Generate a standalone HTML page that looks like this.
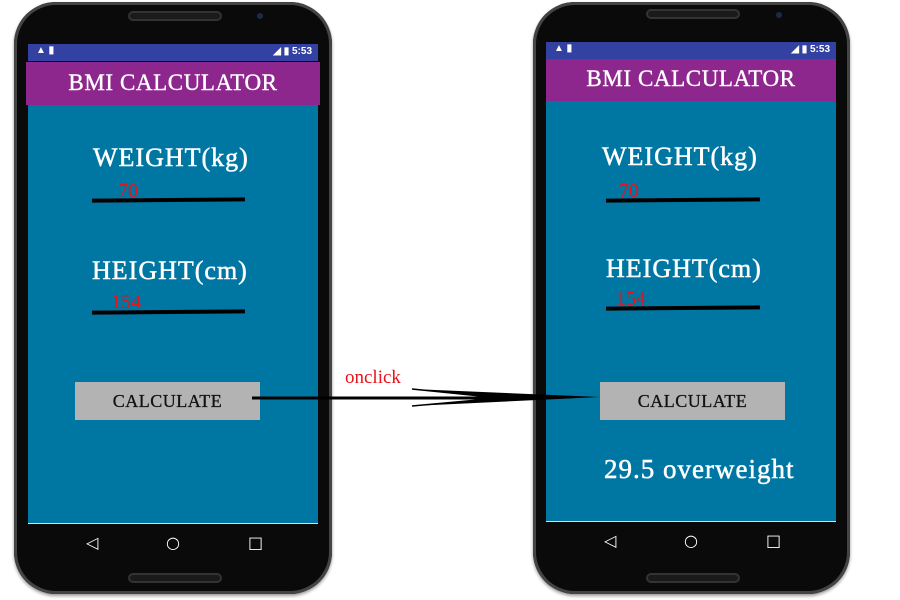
<!DOCTYPE html>
<html><head><meta charset="utf-8"><style>
body{margin:0;width:900px;height:600px;background:#fff;position:relative;overflow:hidden;font-family:"Liberation Serif",serif}
.a{position:absolute}
.body{background:#0a0a0a;border-radius:42px;box-shadow:0 0 0 3px #444 inset, 0 2px 3px #999}
.stat{background:#3341a3;color:#fff;font:bold 10px "Liberation Sans",sans-serif}
.head{background:#8e278d;color:#fff;font-size:23px;text-align:center;letter-spacing:.6px;-webkit-text-stroke:0.4px #fff}
.scr{background:#0077a3}
.lbl{color:#fff;font-size:26px;letter-spacing:1px;-webkit-text-stroke:0.5px #fff}
.val{color:#e8121a;font-size:20px}
.line{background:#000;height:4px}
.btn{background:#b3b3b3;font:18px "Liberation Serif",serif;color:#111;text-align:center;line-height:38px;letter-spacing:.5px;-webkit-text-stroke:0.3px #111}
.spk{background:#1a1a1a;border:2px solid #333;border-radius:8px}
.nav{color:#fff;font:16px "DejaVu Sans",sans-serif}
</style></head><body>

<!-- phone 1 -->
<div class="a body" style="left:14px;top:2px;width:318px;height:592px"></div>
<div class="a spk" style="left:128px;top:11px;width:90px;height:6px"></div>
<div class="a" style="left:257px;top:13px;width:6px;height:6px;border-radius:50%;background:#1c2a4a"></div>
<div class="a stat" style="left:28px;top:44px;width:290px;height:17px"><span class="a" style="left:8px;top:1px">▲ ▮</span><span class="a" style="right:6px;top:2px">◢ ▮ 5:53</span></div>
<div class="a head" style="left:26px;top:62px;width:294px;height:43px;line-height:41px">BMI CALCULATOR</div>
<div class="a scr" style="left:28px;top:105px;width:290px;height:418px"></div>
<div class="a" style="left:28px;top:523px;width:290px;height:1px;background:#ddd"></div>
<div class="a lbl" style="left:93px;top:143px">WEIGHT(kg)</div>
<div class="a val" style="left:118px;top:180px">70</div>
<div class="a line" style="left:92px;top:198px;width:153px;transform:rotate(-0.5deg)"></div>
<div class="a lbl" style="left:92px;top:256px">HEIGHT(cm)</div>
<div class="a val" style="left:111px;top:291px">154</div>
<div class="a line" style="left:92px;top:310px;width:153px;transform:rotate(-0.5deg)"></div>
<div class="a btn" style="left:75px;top:382px;width:185px;height:38px">CALCULATE</div>
<div class="a nav" style="left:86px;top:533px">◁</div>
<div class="a nav" style="left:166px;top:533px">○</div>
<div class="a nav" style="left:248px;top:533px">□</div>
<div class="a spk" style="left:128px;top:573px;width:90px;height:6px"></div>

<!-- phone 2 -->
<div class="a body" style="left:533px;top:2px;width:317px;height:592px"></div>
<div class="a spk" style="left:646px;top:9px;width:90px;height:6px"></div>
<div class="a" style="left:776px;top:12px;width:6px;height:6px;border-radius:50%;background:#1c2a4a"></div>
<div class="a stat" style="left:546px;top:42px;width:290px;height:17px"><span class="a" style="left:8px;top:1px">▲ ▮</span><span class="a" style="right:6px;top:2px">◢ ▮ 5:53</span></div>
<div class="a head" style="left:546px;top:59px;width:290px;height:42px;line-height:40px">BMI CALCULATOR</div>
<div class="a scr" style="left:546px;top:101px;width:290px;height:420px"></div>
<div class="a" style="left:546px;top:521px;width:290px;height:1px;background:#ddd"></div>
<div class="a lbl" style="left:602px;top:142px">WEIGHT(kg)</div>
<div class="a val" style="left:619px;top:180px">70</div>
<div class="a line" style="left:606px;top:198px;width:154px;transform:rotate(-0.5deg)"></div>
<div class="a lbl" style="left:606px;top:254px">HEIGHT(cm)</div>
<div class="a val" style="left:616px;top:288px">154</div>
<div class="a line" style="left:606px;top:306px;width:154px;transform:rotate(-0.5deg)"></div>
<div class="a btn" style="left:600px;top:382px;width:185px;height:38px">CALCULATE</div>
<div class="a" style="left:604px;top:454px;color:#fff;font-size:27px;letter-spacing:1px;-webkit-text-stroke:0.5px #fff">29.5 overweight</div>
<div class="a nav" style="left:604px;top:531px">◁</div>
<div class="a nav" style="left:684px;top:531px">○</div>
<div class="a nav" style="left:766px;top:531px">□</div>
<div class="a spk" style="left:646px;top:573px;width:90px;height:6px"></div>

<!-- arrow -->
<svg class="a" style="left:0;top:0" width="900" height="600">
<line x1="252" y1="398" x2="520" y2="398" stroke="#000" stroke-width="3"/>
<path d="M412,389 L600,397 L412,406 L500,398 Z" fill="#000"/>
<path d="M412,389 L500,398 L412,406" fill="none" stroke="#000" stroke-width="1.5"/>
</svg>
<div class="a" style="left:345px;top:367px;color:#e8121a;font-size:19px">onclick</div>
</body></html>
